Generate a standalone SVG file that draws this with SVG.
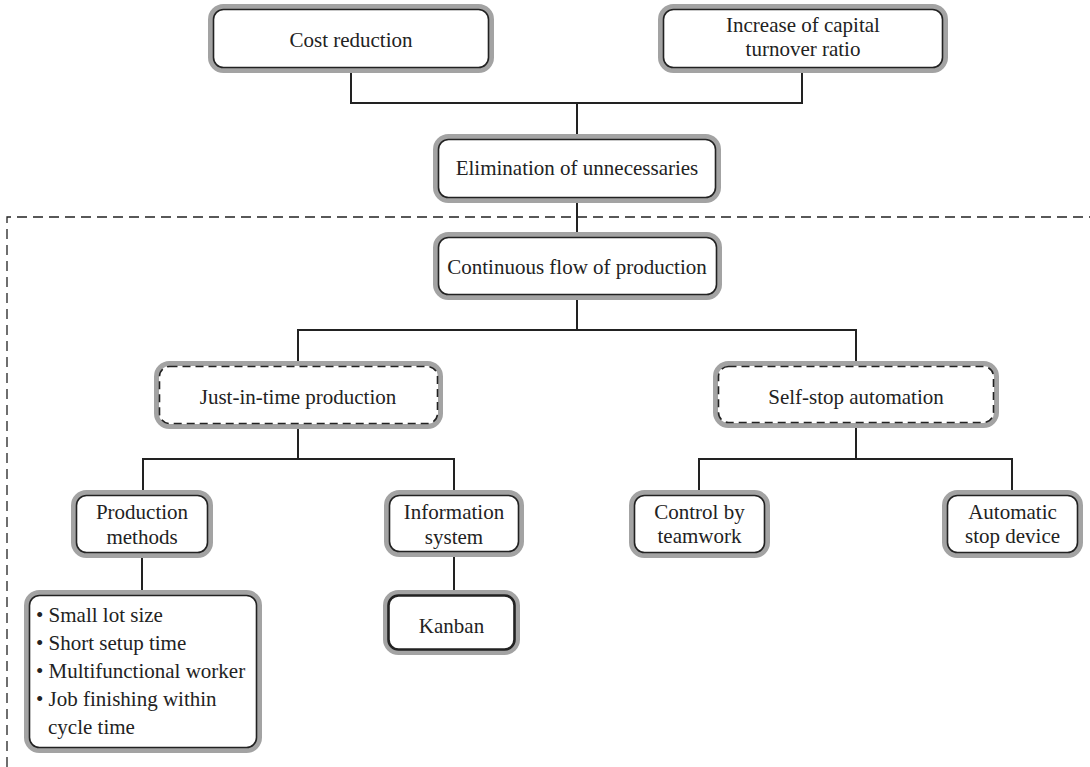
<svg xmlns="http://www.w3.org/2000/svg" width="1090" height="767" viewBox="0 0 1090 767">
<style>
.o{fill:#fff;stroke:#a3a3a3;stroke-width:5}
.i{fill:none;stroke:#222;stroke-width:1.6}
.d{stroke-dasharray:8 5}
.k{stroke-width:2.6}
.t{font-family:"Liberation Serif","Times New Roman",serif;font-size:21px;fill:#222;text-anchor:middle}
.l{text-anchor:start}
.c{fill:none;stroke:#222;stroke-width:2}
.b{fill:none;stroke:#222;stroke-width:1.3;stroke-dasharray:10 6}
</style>
<rect width="1090" height="767" fill="#fff"/>
<path class="b" d="M7,767 V217 H1090"/>
<g id="connectors">
<path class="c" d="M351,73 V103 H802 V73"/>
<path class="c" d="M577,103 V134"/>
<path class="c" d="M577,203 V232"/>
<path class="c" d="M577,300 V330 M298,361 V330 H856 V361"/>
<path class="c" d="M298,429 V459 M143,490 V459 H454 V490"/>
<path class="c" d="M856,428 V459 M699,490 V459 H1012 V490"/>
<path class="c" d="M142,558 V590"/>
<path class="c" d="M454,557 V590"/>
</g>
<g id="cost">
<rect class="o" x="210.5" y="6.5" width="281" height="64" rx="13"/>
<rect class="i" x="213.5" y="9.5" width="275" height="58" rx="10"/>
<text class="t" x="351" y="47">Cost reduction</text>
</g>
<g id="increase">
<rect class="o" x="660.5" y="6.5" width="285" height="64" rx="13"/>
<rect class="i" x="663.5" y="9.5" width="279" height="58" rx="10"/>
<text class="t" x="803" y="32">Increase of capital</text>
<text class="t" x="803" y="56">turnover ratio</text>
</g>
<g id="elimination">
<rect class="o" x="435.5" y="136.5" width="283" height="64" rx="13"/>
<rect class="i" x="438.5" y="139.5" width="277" height="58" rx="10"/>
<text class="t" x="577" y="175">Elimination of unnecessaries</text>
</g>
<g id="continuous">
<rect class="o" x="435.5" y="234.5" width="284" height="63" rx="13"/>
<rect class="i" x="438.5" y="237.5" width="278" height="57" rx="10"/>
<text class="t" x="577" y="274">Continuous flow of production</text>
</g>
<g id="jit">
<rect class="o" x="156.5" y="363.5" width="284" height="63" rx="13"/>
<rect class="i d" x="159.5" y="366.5" width="278" height="57" rx="10"/>
<text class="t" x="298" y="404">Just-in-time production</text>
</g>
<g id="selfstop">
<rect class="o" x="715.5" y="363.5" width="281" height="62" rx="13"/>
<rect class="i d" x="718.5" y="366.5" width="275" height="56" rx="10"/>
<text class="t" x="856" y="404">Self-stop automation</text>
</g>
<g id="production">
<rect class="o" x="73.5" y="492.5" width="137" height="63" rx="13"/>
<rect class="i" x="76.5" y="495.5" width="131" height="57" rx="10"/>
<text class="t" x="142" y="519">Production</text>
<text class="t" x="142" y="544">methods</text>
</g>
<g id="information">
<rect class="o" x="386.5" y="492.5" width="135" height="62" rx="13"/>
<rect class="i" x="389.5" y="495.5" width="129" height="56" rx="10"/>
<text class="t" x="454" y="519">Information</text>
<text class="t" x="454" y="544">system</text>
</g>
<g id="control">
<rect class="o" x="631.5" y="492.5" width="136" height="63" rx="13"/>
<rect class="i" x="634.5" y="495.5" width="130" height="57" rx="10"/>
<text class="t" x="699.5" y="519">Control by</text>
<text class="t" x="699.5" y="543">teamwork</text>
</g>
<g id="automatic">
<rect class="o" x="944.5" y="492.5" width="136" height="63" rx="13"/>
<rect class="i" x="947.5" y="495.5" width="130" height="57" rx="10"/>
<text class="t" x="1012.5" y="519">Automatic</text>
<text class="t" x="1012.5" y="543">stop device</text>
</g>
<g id="methods-list">
<rect class="o" x="26.5" y="592.5" width="233" height="158" rx="13"/>
<rect class="i" x="29.5" y="595.5" width="227" height="152" rx="10"/>
<text class="t l" x="36" y="622">• Small lot size</text>
<text class="t l" x="36" y="650">• Short setup time</text>
<text class="t l" x="36" y="678">• Multifunctional worker</text>
<text class="t l" x="36" y="706">• Job finishing within</text>
<text class="t l" x="48" y="734">cycle time</text>
</g>
<g id="kanban">
<rect class="o" x="385.5" y="592.5" width="132" height="60" rx="13"/>
<rect class="i k" x="388.5" y="595.5" width="126" height="54" rx="10"/>
<text class="t" x="451.5" y="633">Kanban</text>
</g>
</svg>
